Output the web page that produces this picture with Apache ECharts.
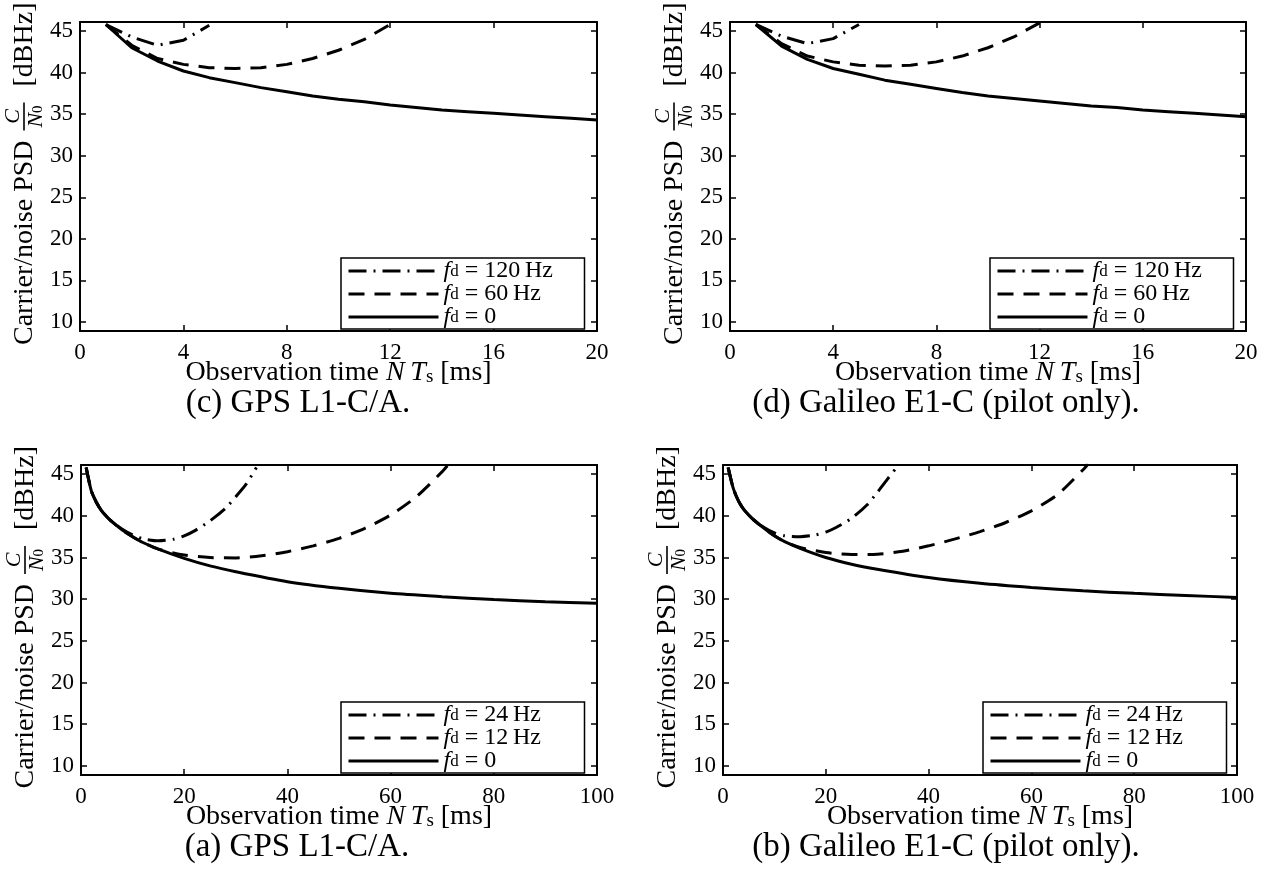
<!DOCTYPE html>
<html>
<head>
<meta charset="utf-8">
<script src="https://cdn.jsdelivr.net/npm/echarts@6/dist/echarts.min.js"></script>
<style>
  html, body { margin: 0; padding: 0; background: #fff; }
  #chart { width: 1267px; height: 881px; }
</style>
</head>
<body>
<div id="chart"></div>
<script>
// ---------------- data ----------------
// tick values
const shortTicks = [0, 4, 8, 12, 16, 20];
const longTicks = [0, 20, 40, 60, 80, 100];
const cnTicks = [10, 15, 20, 25, 30, 35, 40, 45];

// short observation windows (ms)
const tShort = [1, 2, 3, 4, 5, 6, 7, 8, 9, 10, 11, 12, 13, 14, 15, 16, 17, 18, 19, 20];

// GPS L1-C/A, short window [dBHz]
const gpsShortFd0 = [45.8, 43.0, 41.4, 40.2, 39.4, 38.8, 38.2, 37.7, 37.2, 36.8, 36.5, 36.1, 35.8, 35.5, 35.3, 35.1, 34.9, 34.7, 34.5, 34.3];
const gpsShortFd60 = [45.8, 43.3, 41.7, 41.0, 40.6, 40.5, 40.6, 41.0, 41.7, 42.7, 44.0, 45.8];
const gpsShortFd120 = [45.8, 44.3, 43.3, 43.9, 45.7];

// Galileo E1-C, short window [dBHz]
const galShortFd0 = [45.8, 43.2, 41.6, 40.5, 39.8, 39.1, 38.6, 38.1, 37.6, 37.2, 36.9, 36.6, 36.3, 36.0, 35.8, 35.5, 35.3, 35.1, 34.9, 34.7];
const galShortFd60 = [45.8, 43.5, 42.0, 41.3, 40.9, 40.8, 40.9, 41.3, 42.0, 43.0, 44.3, 46.0];
const galShortFd120 = [45.8, 44.4, 43.5, 44.1, 45.8];

// long observation windows (ms)
const tLongFd0 = [1, 2, 3, 4, 5, 6, 8, 10, 12, 15, 20, 25, 30, 40, 50, 60, 70, 80, 90, 100];
const tLongFd12 = [1, 2, 3, 4, 5, 6, 8, 10, 12, 15, 20, 25, 30, 35, 40, 45, 50, 55, 60, 65, 70, 71];
const tLongFd24 = [1, 2, 3, 4, 5, 6, 8, 10, 12, 15, 18, 20, 22, 25, 28, 30, 32, 34];

// GPS L1-C/A, long window [dBHz]
const gpsLongFd0 = [45.8, 43.0, 41.6, 40.6, 39.9, 39.3, 38.3, 37.5, 36.8, 36.0, 34.9, 34.0, 33.3, 32.1, 31.3, 30.7, 30.3, 29.95, 29.7, 29.5];
const gpsLongFd12 = [45.8, 43.0, 41.6, 40.6, 39.9, 39.3, 38.3, 37.5, 36.8, 36.0, 35.3, 35.0, 34.95, 35.2, 35.7, 36.4, 37.3, 38.5, 40.1, 42.3, 45.3, 46.0];
const gpsLongFd24 = [45.8, 43.0, 41.6, 40.6, 39.9, 39.3, 38.4, 37.7, 37.25, 37.0, 37.2, 37.6, 38.2, 39.4, 40.9, 42.3, 43.8, 45.8];

// Galileo E1-C, long window [dBHz]
const galLongFd0 = [45.8, 43.3, 41.8, 40.8, 40.1, 39.5, 38.5, 37.6, 36.9, 36.1, 35.0, 34.2, 33.6, 32.6, 31.9, 31.4, 31.0, 30.7, 30.45, 30.2];
const galLongFd12 = [45.8, 43.3, 41.8, 40.8, 40.1, 39.5, 38.5, 37.6, 36.9, 36.2, 35.6, 35.35, 35.4, 35.75, 36.4, 37.2, 38.1, 39.2, 40.6, 42.5, 45.5, 46.2];
const galLongFd24 = [45.8, 43.3, 41.8, 40.8, 40.1, 39.5, 38.6, 37.95, 37.6, 37.5, 37.7, 38.05, 38.6, 39.7, 41.3, 42.8, 44.4, 46.0];

// legend labels (Doppler offsets)
const shortDopplers = ['120\u2009Hz', '60\u2009Hz', '0'];
const longDopplers = ['24\u2009Hz', '12\u2009Hz', '0'];

const captions = ['(c) GPS L1-C/A.', '(d) Galileo E1-C (pilot only).', '(a) GPS L1-C/A.', '(b) Galileo E1-C (pilot only).'];

// ---------------- styling ----------------
const FONT = 'Liberation Serif';
const BLACK = '#000';
const Y_MIN = 8.9, Y_MAX = 46.1;
const DASH = [16, 10];
const DASH_DOT = [18, 7, 2, 7];

const zip = (t, v) => v.map((y, i) => [t[i], y]);

// panel layout: grid box, x range, legend box, label anchors
const panels = [
  { grid: { left: 80, top: 22, width: 517, height: 309 }, xMax: 20, ticks: shortTicks,
    legend: { left: 341, top: 258 }, yLabelX: 25, captionX: 298,
    lines: [
      { key: 'c120', t: tShort, v: gpsShortFd120, type: DASH_DOT, label: shortDopplers[0] },
      { key: 'c60', t: tShort, v: gpsShortFd60, type: DASH, label: shortDopplers[1] },
      { key: 'c0', t: tShort, v: gpsShortFd0, type: 'solid', label: shortDopplers[2] }
    ], smooth: false },
  { grid: { left: 730, top: 22, width: 516, height: 309 }, xMax: 20, ticks: shortTicks,
    legend: { left: 990, top: 258 }, yLabelX: 675, captionX: 946,
    lines: [
      { key: 'd120', t: tShort, v: galShortFd120, type: DASH_DOT, label: shortDopplers[0] },
      { key: 'd60', t: tShort, v: galShortFd60, type: DASH, label: shortDopplers[1] },
      { key: 'd0', t: tShort, v: galShortFd0, type: 'solid', label: shortDopplers[2] }
    ], smooth: false },
  { grid: { left: 81, top: 465, width: 516, height: 310 }, xMax: 100, ticks: longTicks,
    legend: { left: 341, top: 702 }, yLabelX: 26, captionX: 297,
    lines: [
      { key: 'a24', t: tLongFd24, v: gpsLongFd24, type: DASH_DOT, label: longDopplers[0] },
      { key: 'a12', t: tLongFd12, v: gpsLongFd12, type: DASH, label: longDopplers[1] },
      { key: 'a0', t: tLongFd0, v: gpsLongFd0, type: 'solid', label: longDopplers[2] }
    ], smooth: true },
  { grid: { left: 723, top: 465, width: 514, height: 310 }, xMax: 100, ticks: longTicks,
    legend: { left: 983, top: 702 }, yLabelX: 668, captionX: 946,
    lines: [
      { key: 'b24', t: tLongFd24, v: galLongFd24, type: DASH_DOT, label: longDopplers[0] },
      { key: 'b12', t: tLongFd12, v: galLongFd12, type: DASH, label: longDopplers[1] },
      { key: 'b0', t: tLongFd0, v: galLongFd0, type: 'solid', label: longDopplers[2] }
    ], smooth: true }
];

const grids = [], xAxes = [], yAxes = [], series = [], legends = [], graphics = [];
const legendText = {};

const axisLine = { onZero: false, lineStyle: { color: BLACK, width: 2 } };
const tickStyle = { color: BLACK, width: 1.5 };
const labelFont = { color: BLACK, fontFamily: FONT, fontSize: 23 };

panels.forEach((p, gi) => {
  grids.push(Object.assign({ containLabel: false }, p.grid));

  // bottom + mirrored top x axes
  const xa = { gridIndex: gi, type: 'value', min: 0, max: p.xMax, splitLine: { show: false }, axisLine };
  xAxes.push(Object.assign({}, xa, {
    position: 'bottom',
    axisTick: { inside: true, length: 6, lineStyle: tickStyle, customValues: p.ticks },
    axisLabel: Object.assign({ customValues: p.ticks, margin: 10 }, labelFont)
  }));
  xAxes.push(Object.assign({}, xa, {
    position: 'top',
    axisTick: { inside: true, length: 6, lineStyle: tickStyle, customValues: p.ticks },
    axisLabel: { show: false }
  }));

  // left + mirrored right y axes
  const ya = { gridIndex: gi, type: 'value', min: Y_MIN, max: Y_MAX, splitLine: { show: false }, axisLine };
  yAxes.push(Object.assign({}, ya, {
    position: 'left',
    axisTick: { inside: true, length: 6, lineStyle: tickStyle, customValues: cnTicks },
    axisLabel: Object.assign({ customValues: cnTicks, margin: 7 }, labelFont)
  }));
  yAxes.push(Object.assign({}, ya, {
    position: 'right',
    axisTick: { inside: true, length: 6, lineStyle: tickStyle, customValues: cnTicks },
    axisLabel: { show: false }
  }));

  p.lines.forEach(l => {
    legendText[l.key] = l.label;
    series.push({
      name: l.key, type: 'line', xAxisIndex: gi * 2, yAxisIndex: gi * 2,
      data: zip(l.t, l.v), symbol: 'none', smooth: p.smooth ? 0.25 : false,
      clip: true, silent: true,
      itemStyle: { color: BLACK },
      lineStyle: { color: BLACK, width: 3, type: l.type, cap: 'butt' }
    });
  });

  legends.push({
    show: true, orient: 'vertical', left: p.legend.left, top: p.legend.top,
    data: p.lines.map(l => l.key), selectedMode: false,
    itemWidth: 90, itemHeight: 14, itemGap: -1,
    padding: [1, 7, 0, 6], borderColor: BLACK, borderWidth: 1.5, borderRadius: 0,
    backgroundColor: '#fff',
    lineStyle: { width: 3 },
    itemStyle: { opacity: 0 },
    formatter: name => '{f|f}{d|d}{n| = ' + legendText[name] + '}',
    textStyle: {
      color: BLACK, fontFamily: FONT, fontSize: 24, width: 134, lineHeight: 18,
      rich: {
        f: { fontFamily: FONT, fontSize: 24, fontStyle: 'italic', lineHeight: 18, color: BLACK },
        d: { fontFamily: FONT, fontSize: 17, lineHeight: 6, verticalAlign: 'bottom', color: BLACK },
        n: { fontFamily: FONT, fontSize: 24, lineHeight: 18, color: BLACK }
      }
    }
  });

  const g = p.grid;
  const cy = g.top + g.height / 2 + 4;
  const cx = g.left + g.width / 2;
  const axisBottom = g.top + g.height;

  // vertical axis title with the C/N0 fraction
  graphics.push({
    type: 'group', x: p.yLabelX, y: cy, rotation: Math.PI / 2, silent: true,
    children: [
      { type: 'text', x: 40, y: 0, style: { text: 'Carrier/noise PSD', fontFamily: FONT, fontSize: 28, fill: BLACK, align: 'right', verticalAlign: 'middle' } },
      { type: 'text', x: 64, y: -12, style: { text: 'C', fontFamily: FONT, fontSize: 22, fontStyle: 'italic', fill: BLACK, align: 'center', verticalAlign: 'middle' } },
      { type: 'line', shape: { x1: 50, y1: -1, x2: 78, y2: -1 }, style: { stroke: BLACK, lineWidth: 1.6 } },
      { type: 'text', x: 64, y: 11, style: {
          text: '{i|N}{s|0}', fill: BLACK, align: 'center', verticalAlign: 'middle',
          rich: {
            i: { fontFamily: FONT, fontSize: 22, fontStyle: 'italic', lineHeight: 20, fill: BLACK },
            s: { fontFamily: FONT, fontSize: 15, lineHeight: 8, verticalAlign: 'bottom', fill: BLACK }
          } } },
      { type: 'text', x: 94, y: 0, style: { text: '[dBHz]', fontFamily: FONT, fontSize: 28, fill: BLACK, align: 'left', verticalAlign: 'middle' } }
    ]
  });

  // horizontal axis title
  graphics.push({
    type: 'text', x: cx, y: axisBottom + 42, silent: true,
    style: {
      text: '{n|Observation time }{i|N}{n|\u2009}{i|T}{s|s}{n| [ms]}',
      fill: BLACK, align: 'center', verticalAlign: 'middle',
      rich: {
        n: { fontFamily: FONT, fontSize: 28, lineHeight: 28, fill: BLACK },
        i: { fontFamily: FONT, fontSize: 28, fontStyle: 'italic', lineHeight: 28, fill: BLACK },
        s: { fontFamily: FONT, fontSize: 19, lineHeight: 12, verticalAlign: 'bottom', fill: BLACK }
      }
    }
  });

  // sub-figure caption
  graphics.push({
    type: 'text', x: p.captionX, y: axisBottom + 72, silent: true,
    style: { text: captions[gi], fontFamily: FONT, fontSize: 33, fill: BLACK, align: 'center', verticalAlign: 'middle' }
  });
});

const chart = echarts.init(document.getElementById('chart'), null, { renderer: 'canvas' });
chart.setOption({
  backgroundColor: '#fff',
  animation: false,
  grid: grids,
  xAxis: xAxes,
  yAxis: yAxes,
  legend: legends,
  series: series,
  graphic: graphics
});
</script>
</body>
</html>
